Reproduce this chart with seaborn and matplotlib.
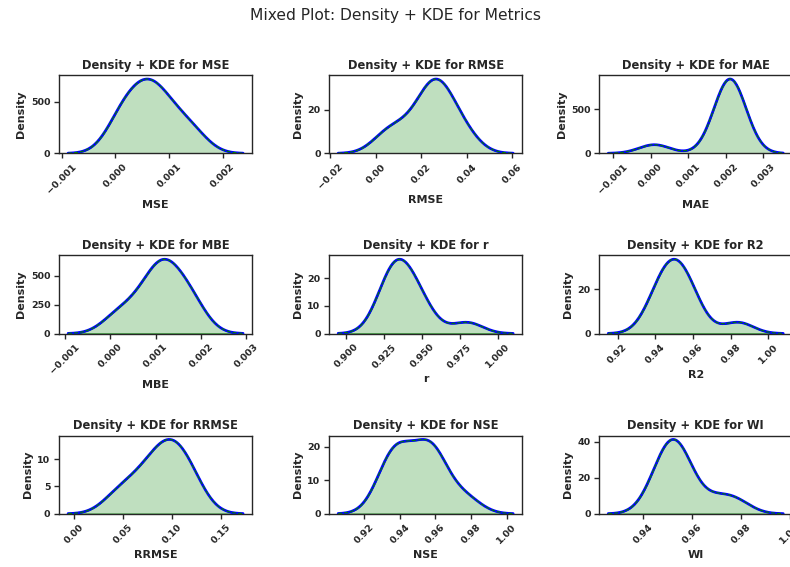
import numpy as np
import pandas as pd
import matplotlib
matplotlib.use("Agg")
import matplotlib.pyplot as plt
import seaborn as sns
from matplotlib.ticker import MaxNLocator

# ---- data ----
metric_names = ["MSE", "RMSE", "MAE", "MBE", "r", "R2", "RRMSE", "NSE", "WI"]
mse = [0.0000, 0.0002, 0.0003, 0.0005, 0.0006, 0.0007, 0.0008, 0.0010, 0.0012, 0.0015]
rmse = [0.004, 0.010, 0.018, 0.022, 0.025, 0.026, 0.028, 0.030, 0.034, 0.040]
mae = [0.0001, 0.0019, 0.0020, 0.0020, 0.0021, 0.0021, 0.0022, 0.0022, 0.0022, 0.0023]
mbe = [0.0001, 0.0005, 0.0008, 0.0010, 0.0011, 0.0012, 0.0013, 0.0015, 0.0017, 0.0019]
r = [0.925, 0.928, 0.931, 0.933, 0.935, 0.938, 0.942, 0.947, 0.952, 0.980]
r2 = [0.939, 0.943, 0.945, 0.948, 0.950, 0.952, 0.955, 0.957, 0.961, 0.984]
rrmse = [0.042, 0.059, 0.072, 0.082, 0.089, 0.095, 0.101, 0.107, 0.114, 0.124]
nse = [0.932, 0.936, 0.938, 0.940, 0.948, 0.955, 0.957, 0.959, 0.962, 0.977]
wi = [0.945, 0.948, 0.950, 0.952, 0.953, 0.954, 0.956, 0.959, 0.970, 0.978]

df = pd.DataFrame({"MSE": mse, "RMSE": rmse, "MAE": mae, "MBE": mbe, "r": r,
                   "R2": r2, "RRMSE": rrmse, "NSE": nse, "WI": wi})

# ---- style ----
sns.set_theme(style="ticks")
plt.rcParams.update({
    "font.family": ["DejaVu Sans"],
    "font.weight": "bold",
    "axes.labelweight": "bold",
    "axes.titleweight": "bold",
    "axes.titlesize": 10.4,
    "axes.labelsize": 10,
    "xtick.labelsize": 8.5,
    "ytick.labelsize": 8.5,
    "axes.linewidth": 1.25,
    "xtick.major.width": 1.25,
    "ytick.major.width": 1.25,
    "xtick.major.size": 4.5,
    "ytick.major.size": 4.5,
})

fig, axes = plt.subplots(3, 3, figsize=(9.875, 7.0875), dpi=80)
fig.subplots_adjust(left=0.0751, right=1.0025, top=0.8672, bottom=0.0940,
                    wspace=0.403, hspace=1.31)

for ax, name in zip(axes.flat, metric_names):
    # filled density
    sns.kdeplot(x=df[name], ax=ax, fill=True, color="green", linewidth=1.0)
    # KDE curve (solid blue) with dashed green overlay
    sns.kdeplot(x=df[name], ax=ax, color="blue", linewidth=2.4, zorder=3)
    sns.kdeplot(x=df[name], ax=ax, color="green", linestyle="--",
                linewidth=1.0, zorder=4)
    ax.set_title(f"Density + KDE for {name}", fontweight="bold")
    ax.set_xlabel(name)
    ax.set_ylabel("Density")
    ax.xaxis.set_major_locator(MaxNLocator(nbins=6, steps=[1, 2, 2.5, 5, 10]))
    ax.yaxis.set_major_locator(MaxNLocator(nbins=3, steps=[1, 2, 2.5, 5, 10]))
    for lbl in ax.get_xticklabels():
        lbl.set_rotation(45)

fig.suptitle("Mixed Plot: Density + KDE for Metrics", fontsize=14,
             fontweight="normal", y=0.986)

fig.savefig("out.png", dpi=80)
